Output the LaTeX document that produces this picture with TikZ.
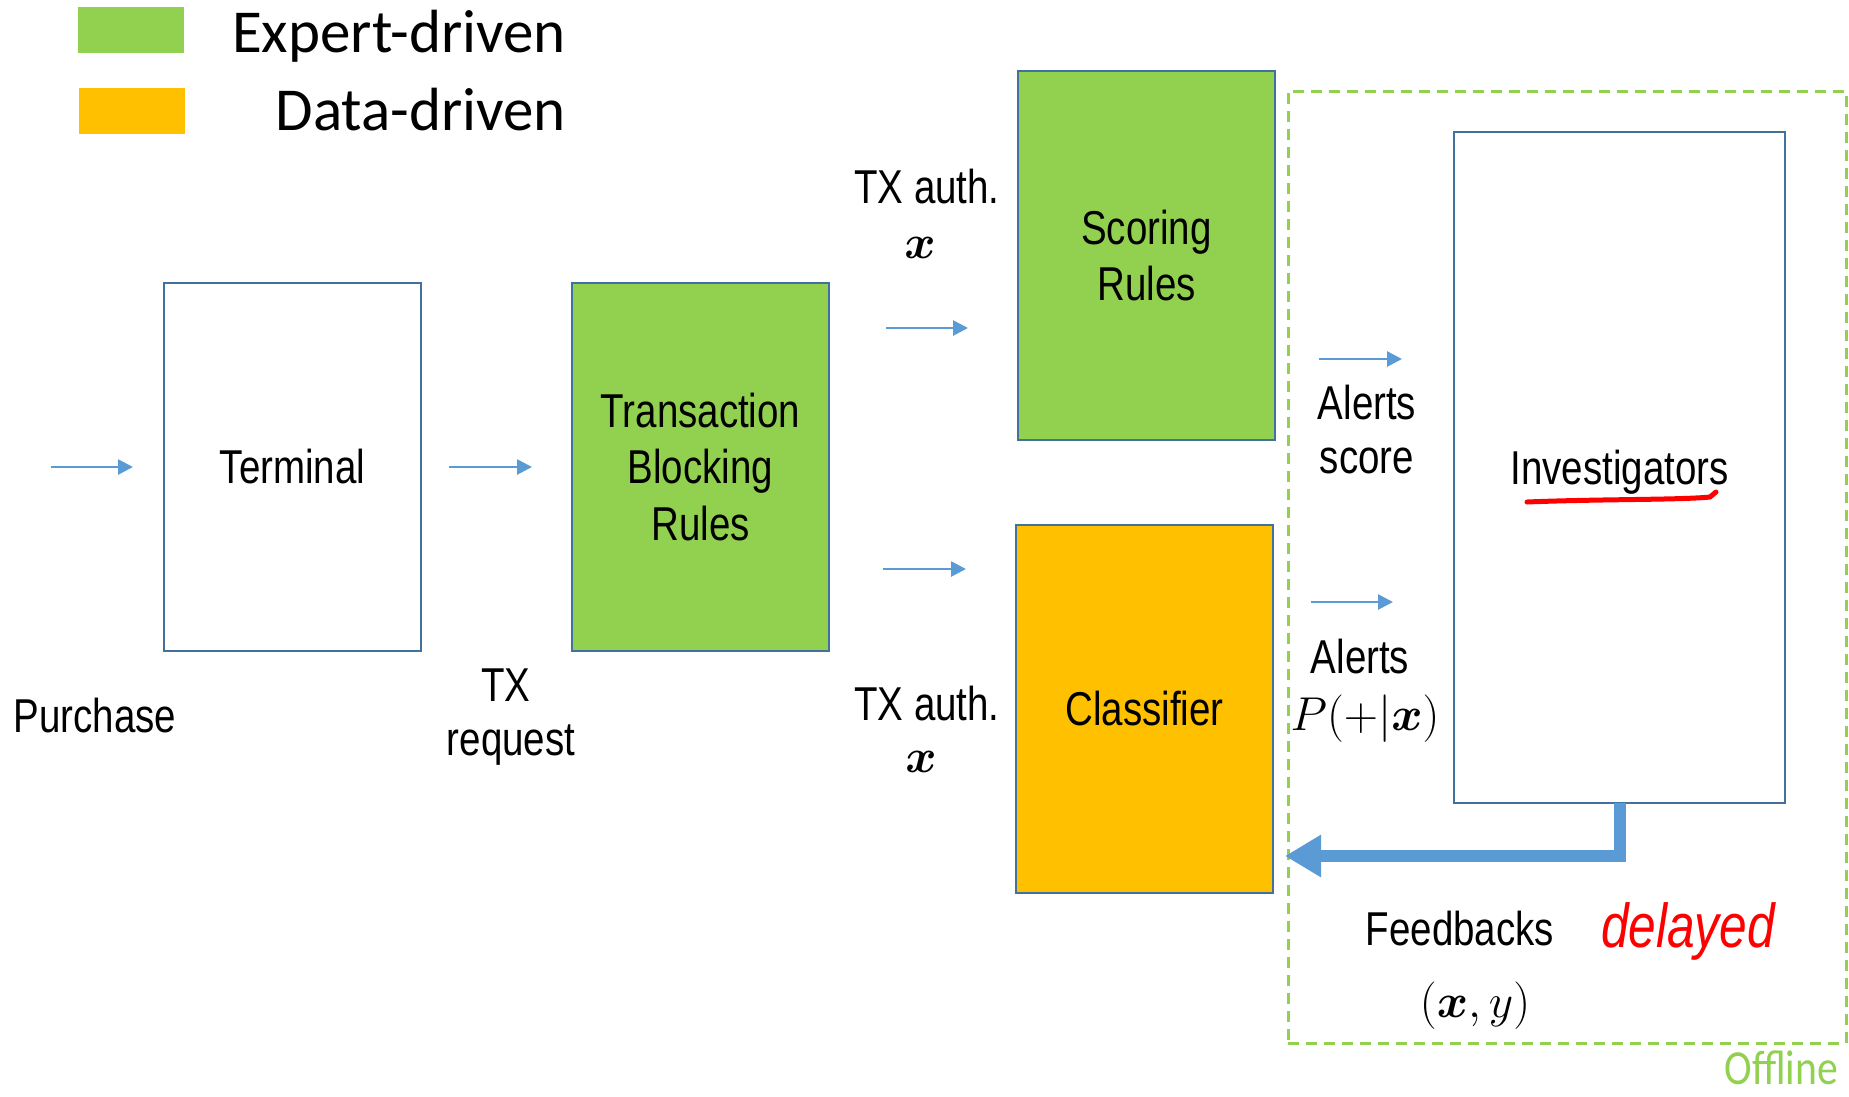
\RequirePackage{fix-cm}
\documentclass[tikz,border=0pt]{standalone}
\usepackage{graphicx}
\usepackage{bm}
\usepackage[no-math]{fontspec}
\setmainfont{Liberation Sans}[FakeStretch=0.81]
\newfontfamily\legendfont{Carlito}
\newfontfamily\markerfont{Liberation Sans}[FakeStretch=0.8]
\usetikzlibrary{arrows.meta}
\definecolor{expertgreen}{HTML}{92D050}
\definecolor{dataorange}{HTML}{FFC000}
\definecolor{boxblue}{HTML}{41719C}
\definecolor{flowblue}{HTML}{5B9BD5}
\definecolor{markred}{HTML}{FF0000}
\begin{document}
\begin{tikzpicture}[x=1pt,y=-1pt,
  every node/.style={inner sep=0pt, outer sep=0pt},
  mainfont/.style={font=\fontsize{47.5}{56.5}\selectfont},
  block/.style={draw=boxblue, line width=2.5pt, minimum width=257pt,
    minimum height=368pt, align=center, mainfont},
  lbl/.style={anchor=base, mainfont},
  flow/.style={draw=flowblue, line width=2.7pt, -{Triangle[length=15pt,width=15pt]}},
  feedback/.style={draw=flowblue, line width=12pt, line join=miter,
    -{Triangle[length=36pt,width=40pt]}},
  legendbox/.style={minimum width=106pt, minimum height=46pt},
  legendtext/.style={anchor=base east, font=\legendfont\fontsize{61}{70}\selectfont},
]
\useasboundingbox (0,0) rectangle (1849,1096);

% legend
\node[legendbox, fill=expertgreen] (legexp) at (131,30) {};
\node[legendbox, fill=dataorange] (legdata) at (132,111) {};
\node[legendtext] (legexptext) at (566,52) {Expert-driven};
\node[legendtext] (legdatatext) at (566,130) {Data-driven};

% offline region
\node[draw=expertgreen, line width=3pt, dash pattern=on 11pt off 7pt,
  minimum width=558pt, minimum height=952pt] (offline) at (1567,567) {};
\node[anchor=base east, text=expertgreen, font=\legendfont\fontsize{49}{56}\selectfont]
  (offlinetext) at (1838,1084) {\scalebox{0.85}[1]{Offline}};

% processing blocks
\node[block] (term) at (292.5,467) {Terminal};
\node[block, fill=expertgreen] (tbr) at (700.5,467) {Transaction\\Blocking\\Rules};
\node[block, fill=expertgreen, minimum height=369pt] (score) at (1146.5,255.5) {Scoring\\Rules};
\node[block, fill=dataorange] (clf) at (1144.5,709) {Classifier};
\node[block, minimum width=331pt, minimum height=671pt, text depth=0pt]
  (inv) at (1619.5,467.5) {Investigators};

% hand-drawn underline
\draw[markred, line width=5pt, line cap=round]
  (1527,502) .. controls (1600,499) and (1680,500) .. (1710,497) -- (1716,492);

% flow arrows
\coordinate (purchIn) at (51,467);   \coordinate (purchOut) at (133,467);
\coordinate (reqIn) at (449,467);    \coordinate (reqOut) at (532,467);
\coordinate (authAIn) at (886,328);  \coordinate (authAOut) at (968,328);
\coordinate (authBIn) at (883,569);  \coordinate (authBOut) at (966,569);
\coordinate (alertAIn) at (1319,359); \coordinate (alertAOut) at (1402,359);
\coordinate (alertBIn) at (1311,602); \coordinate (alertBOut) at (1393,602);
\draw[flow] (purchIn) -- (purchOut);
\draw[flow] (reqIn) -- (reqOut);
\draw[flow] (authAIn) -- (authAOut);
\draw[flow] (authBIn) -- (authBOut);
\draw[flow] (alertAIn) -- (alertAOut);
\draw[flow] (alertBIn) -- (alertBOut);

% feedback loop
\coordinate (fbtip) at (1285,856);
\draw[feedback] (inv.south) |- (fbtip);

% labels
\node[lbl] (purchase) at (95,732) {Purchase};
\node[lbl] (txreqA) at (506,701) {TX};
\node[lbl] (txreqB) at (511,755) {request};
\node[lbl] (authA) at (927,203) {TX auth.};
\node[lbl] (authAx) at (920,258) {$\bm{x}$};
\node[lbl] (authB) at (927,720) {TX auth.};
\node[lbl] (authBx) at (921,772) {$\bm{x}$};
\node[lbl] (alertsA) at (1367,419) {Alerts};
\node[lbl] (alertsAsc) at (1367,473) {score};
\node[lbl] (alertsB) at (1360,673) {Alerts};
\node[lbl] (alertsBp) at (1365,730) {$P(+|\bm{x})$};
\node[lbl] (feedbacks) at (1460,945) {Feedbacks};
\node[lbl] (feedxy) at (1475,1017) {$(\bm{x},y)$};
\node[anchor=base west, text=markred, font=\markerfont\itshape\fontsize{62}{70}\selectfont]
  (delayed) at (1601,947) {delayed};
\end{tikzpicture}
\end{document}
